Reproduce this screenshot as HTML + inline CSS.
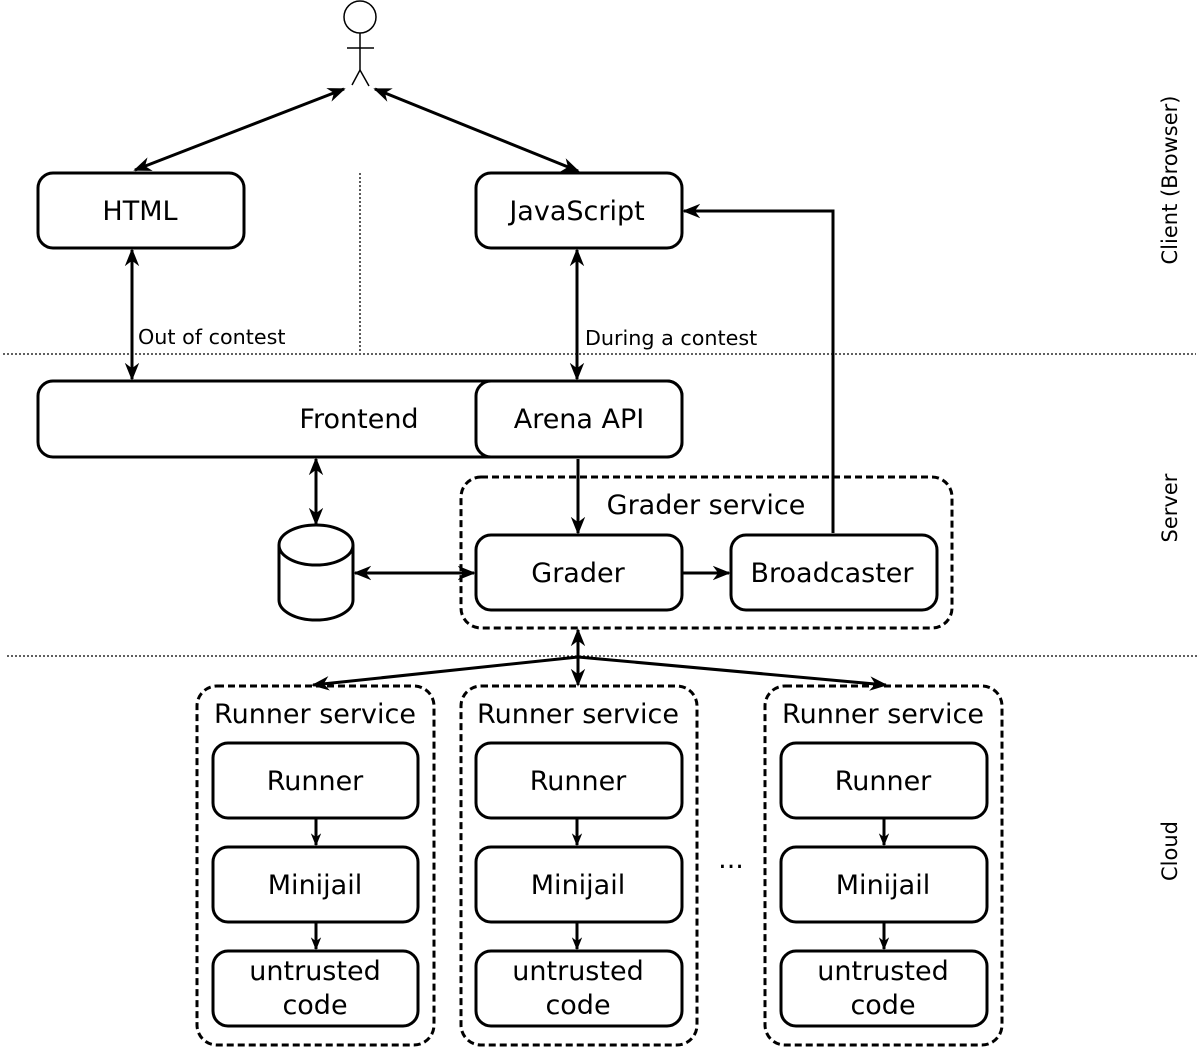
<!DOCTYPE html>
<html><head><meta charset="utf-8"><style>body{margin:0;background:#fff}svg{display:block}text{font-family:"DejaVu Sans","Liberation Sans",sans-serif;fill:#000}</style></head><body>
<svg width="1200" height="1047" viewBox="0 0 1200 1047" xmlns="http://www.w3.org/2000/svg">
<defs>
<marker id="a" viewBox="0 0 10 10" refX="9" refY="5" markerWidth="13" markerHeight="13" orient="auto-start-reverse" markerUnits="userSpaceOnUse"><path d="M0,1 L10,5 L0,9 L3,5 z"/></marker>
<marker id="b" viewBox="0 0 10 10" refX="9" refY="5" markerWidth="18" markerHeight="18" orient="auto-start-reverse" markerUnits="userSpaceOnUse"><path d="M0,1 L10,5 L0,9 L3,5 z"/></marker>
</defs>
<g stroke="#000" fill="none" stroke-width="1.5">
<circle cx="360" cy="17" r="16" fill="#fff"/>
<line x1="360" y1="33" x2="360" y2="70"/><line x1="347" y1="48" x2="374" y2="48"/>
<polyline points="352,85 360,70 369,86"/>
</g>
<g stroke="#000" stroke-width="1.3" stroke-dasharray="2,2">
<line x1="360" y1="173" x2="360" y2="353"/>
<line x1="3" y1="354" x2="1196" y2="354"/>
<line x1="7" y1="656" x2="1198" y2="656"/>
</g>
<g stroke="#000" stroke-width="3" fill="none">
<line x1="344" y1="89" x2="135" y2="170" marker-start="url(#b)" marker-end="url(#b)"/>
<line x1="375" y1="89" x2="578" y2="171" marker-start="url(#b)" marker-end="url(#b)"/>
<rect x="38" y="173" width="206" height="75" rx="15" fill="#fff"/>
<rect x="476" y="173" width="206" height="75" rx="15" fill="#fff"/>
<line x1="132" y1="250" x2="132" y2="379" marker-start="url(#b)" marker-end="url(#b)"/>
<line x1="577" y1="250" x2="577" y2="379" marker-start="url(#b)" marker-end="url(#b)"/>
<rect x="38" y="381" width="644" height="76" rx="15" fill="#fff"/>
<rect x="476" y="381" width="206" height="76" rx="15" fill="#fff"/>
<polyline points="833,533 833,211 684,211" marker-end="url(#b)"/>
<line x1="316" y1="459" x2="316" y2="524" marker-start="url(#b)" marker-end="url(#b)"/>
<path d="M279,545 L279,600 A37,20 0 0 0 353,600 L353,545 A37,20 0 0 0 279,545 A37,20 0 0 0 353,545" fill="#fff"/>
<line x1="355" y1="573" x2="474" y2="573" marker-start="url(#b)" marker-end="url(#b)"/>
<rect x="461" y="477" width="491" height="151" rx="20" stroke-dasharray="7,4"/>
<line x1="578" y1="459" x2="578" y2="533" marker-end="url(#b)"/>
<rect x="476" y="535" width="206" height="75" rx="15" fill="#fff"/>
<rect x="731" y="535" width="206" height="75" rx="15" fill="#fff"/>
<line x1="682" y1="573" x2="729" y2="573" marker-end="url(#b)"/>
<line x1="578" y1="630" x2="578" y2="685" marker-start="url(#b)" marker-end="url(#b)"/>
<line x1="578" y1="657" x2="313" y2="685" marker-end="url(#b)"/>
<line x1="578" y1="657" x2="886" y2="685" marker-end="url(#b)"/>
<rect x="197" y="686" width="237" height="359" rx="20" stroke-dasharray="7,4"/>
<rect x="461" y="686" width="236" height="359" rx="20" stroke-dasharray="7,4"/>
<rect x="765" y="686" width="237" height="359" rx="20" stroke-dasharray="7,4"/>
<g fill="#fff">
<rect x="213" y="743" width="205" height="75" rx="15"/><rect x="213" y="847" width="205" height="75" rx="15"/><rect x="213" y="951" width="205" height="75" rx="15"/>
<rect x="476" y="743" width="206" height="75" rx="15"/><rect x="476" y="847" width="206" height="75" rx="15"/><rect x="476" y="951" width="206" height="75" rx="15"/>
<rect x="781" y="743" width="206" height="75" rx="15"/><rect x="781" y="847" width="206" height="75" rx="15"/><rect x="781" y="951" width="206" height="75" rx="15"/>
</g>
<g stroke-width="3">
<line x1="316" y1="819" x2="316" y2="845" marker-end="url(#a)"/><line x1="316" y1="923" x2="316" y2="949" marker-end="url(#a)"/>
<line x1="577" y1="819" x2="577" y2="845" marker-end="url(#a)"/><line x1="577" y1="923" x2="577" y2="949" marker-end="url(#a)"/>
<line x1="884" y1="819" x2="884" y2="845" marker-end="url(#a)"/><line x1="884" y1="923" x2="884" y2="949" marker-end="url(#a)"/>
</g>
</g>
<g font-size="27" text-anchor="middle">
<text x="140" y="220">HTML</text>
<text x="577" y="220">JavaScript</text>
<text x="359" y="428">Frontend</text>
<text x="579" y="428">Arena API</text>
<text x="706" y="514">Grader service</text>
<text x="578" y="582">Grader</text>
<text x="832" y="582">Broadcaster</text>
<text x="315" y="723">Runner service</text><text x="578" y="723">Runner service</text><text x="883" y="723">Runner service</text>
<text x="315" y="790">Runner</text><text x="578" y="790">Runner</text><text x="883" y="790">Runner</text>
<text x="315" y="894">Minijail</text><text x="578" y="894">Minijail</text><text x="883" y="894">Minijail</text>
<text x="315" y="980">untrusted</text><text x="578" y="980">untrusted</text><text x="883" y="980">untrusted</text>
<text x="315" y="1014">code</text><text x="578" y="1014">code</text><text x="883" y="1014">code</text>
<text x="731" y="868">...</text>
</g>
<g font-size="20.7">
<text x="138" y="344">Out of contest</text>
<text x="585" y="345">During a contest</text>
<text transform="translate(1177,180) rotate(-90)" text-anchor="middle" font-size="21">Client (Browser)</text>
<text transform="translate(1177,508) rotate(-90)" text-anchor="middle" font-size="21">Server</text>
<text transform="translate(1177,851) rotate(-90)" text-anchor="middle" font-size="21">Cloud</text>
</g>
</svg>
</body></html>
